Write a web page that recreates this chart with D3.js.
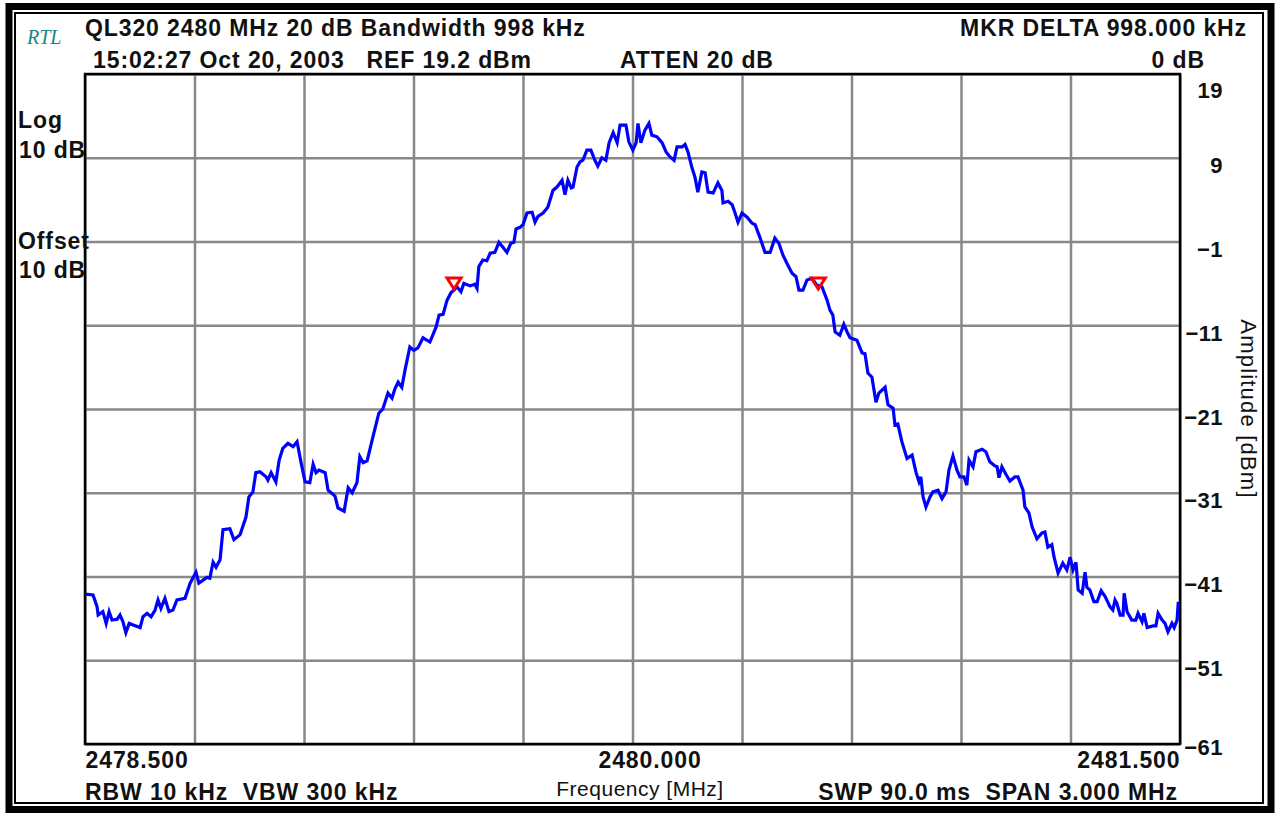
<!DOCTYPE html>
<html lang="en">
<head>
    <meta charset="UTF-8">
    <title>QL320 2480 MHz 20 dB Bandwidth</title>
    <style>
        body {
            margin: 0;
            padding: 0;
            background-color: #ffffff;
        }

        #analyzer {
            width: 1275px;
            height: 813px;
            display: block;
        }

        .hdr {
            font-family: "Liberation Sans", Arial, sans-serif;
            font-weight: bold;
            font-size: 23px;
            letter-spacing: 0.9px;
            fill: #111;
        }

        .thin {
            font-family: "Liberation Sans", Arial, sans-serif;
            font-size: 21px;
            letter-spacing: 0.5px;
            fill: #111;
        }
    </style>
</head>
<body>

<div id="analyzer"></div>

<script src="https://d3js.org/d3.v7.min.js"></script>
<script>
    // Trace: frequency in MHz, amplitude in dBm
    const freq = [
        2478.500, 2478.522, 2478.533, 2478.536, 2478.549, 2478.558, 2478.566, 2478.574, 2478.588, 2478.596,
        2478.604, 2478.612, 2478.621, 2478.632, 2478.651, 2478.659, 2478.670, 2478.681, 2478.692, 2478.700,
        2478.708, 2478.719, 2478.730, 2478.741, 2478.752, 2478.774, 2478.788, 2478.804, 2478.812, 2478.834,
        2478.842, 2478.851, 2478.859, 2478.870, 2478.878, 2478.897, 2478.908, 2478.925, 2478.941, 2478.949,
        2478.960, 2478.968, 2478.979, 2478.996, 2479.001, 2479.010, 2479.023, 2479.032, 2479.042, 2479.056,
        2479.070, 2479.081, 2479.092, 2479.103, 2479.116, 2479.125, 2479.133, 2479.141, 2479.158, 2479.166,
        2479.185, 2479.193, 2479.210, 2479.221, 2479.232, 2479.245, 2479.253, 2479.262, 2479.273, 2479.289,
        2479.305, 2479.316, 2479.330, 2479.341, 2479.349, 2479.358, 2479.368, 2479.377, 2479.390, 2479.401,
        2479.412, 2479.426, 2479.445, 2479.462, 2479.470, 2479.481, 2479.492, 2479.503, 2479.511, 2479.519,
        2479.530, 2479.538, 2479.555, 2479.568, 2479.574, 2479.579, 2479.590, 2479.601, 2479.610, 2479.623,
        2479.634, 2479.645, 2479.656, 2479.667, 2479.675, 2479.681, 2479.692, 2479.700, 2479.711, 2479.725,
        2479.733, 2479.741, 2479.755, 2479.768, 2479.782, 2479.793, 2479.807, 2479.815, 2479.823, 2479.832,
        2479.837, 2479.848, 2479.856, 2479.864, 2479.875, 2479.886, 2479.897, 2479.905, 2479.916, 2479.927,
        2479.936, 2479.947, 2479.958, 2479.966, 2479.982, 2479.990, 2480.001, 2480.010, 2480.015, 2480.023,
        2480.034, 2480.045, 2480.053, 2480.067, 2480.081, 2480.092, 2480.103, 2480.114, 2480.122, 2480.136,
        2480.144, 2480.152, 2480.163, 2480.171, 2480.179, 2480.190, 2480.199, 2480.207, 2480.221, 2480.234,
        2480.245, 2480.248, 2480.262, 2480.273, 2480.281, 2480.289, 2480.300, 2480.314, 2480.327, 2480.336,
        2480.349, 2480.363, 2480.377, 2480.390, 2480.401, 2480.412, 2480.423, 2480.437, 2480.448, 2480.456,
        2480.467, 2480.478, 2480.492, 2480.505, 2480.519, 2480.533, 2480.541, 2480.549, 2480.555, 2480.568,
        2480.579, 2480.588, 2480.596, 2480.615, 2480.629, 2480.637, 2480.645, 2480.656, 2480.667, 2480.675,
        2480.692, 2480.700, 2480.714, 2480.719, 2480.727, 2480.738, 2480.752, 2480.766, 2480.777, 2480.785,
        2480.790, 2480.796, 2480.804, 2480.815, 2480.823, 2480.837, 2480.848, 2480.859, 2480.867, 2480.878,
        2480.889, 2480.897, 2480.908, 2480.916, 2480.922, 2480.933, 2480.941, 2480.958, 2480.968, 2480.979,
        2480.993, 2480.999, 2481.004, 2481.012, 2481.023, 2481.034, 2481.048, 2481.056, 2481.070, 2481.075,
        2481.086, 2481.095, 2481.108, 2481.122, 2481.130, 2481.138, 2481.149, 2481.155, 2481.166, 2481.179,
        2481.190, 2481.199, 2481.207, 2481.215, 2481.221, 2481.232, 2481.240, 2481.245, 2481.253, 2481.264,
        2481.273, 2481.284, 2481.295, 2481.308, 2481.316, 2481.322, 2481.327, 2481.336, 2481.344, 2481.347,
        2481.355, 2481.368, 2481.379, 2481.385, 2481.396, 2481.401, 2481.410, 2481.426, 2481.434, 2481.440,
        2481.451, 2481.459, 2481.467, 2481.478, 2481.484, 2481.492, 2481.495, 2481.500
    ];

    const amplitude = [
        -43.1, -43.2, -44.6, -45.6, -45.2, -46.6, -45.2, -46.2, -46.1, -45.6,
        -46.4, -47.7, -46.6, -46.8, -47.1, -45.8, -45.4, -45.8, -45.0, -43.8,
        -44.8, -43.6, -45.2, -45.0, -43.8, -43.6, -41.8, -40.5, -41.8, -41.1,
        -41.2, -39.3, -39.9, -39.0, -35.4, -35.3, -36.6, -36.0, -33.9, -31.5,
        -30.9, -28.6, -28.5, -29.1, -29.5, -28.6, -29.7, -27.1, -25.7, -25.1,
        -25.5, -24.9, -27.4, -29.7, -29.8, -27.6, -28.6, -28.3, -28.6, -30.7,
        -31.4, -32.8, -33.2, -30.4, -31.0, -29.8, -26.7, -27.4, -27.2, -24.3,
        -21.5, -21.0, -19.1, -19.7, -18.6, -17.8, -18.4, -16.3, -13.6, -14.0,
        -13.7, -12.5, -13.0, -11.2, -9.8, -9.7, -8.0, -7.1, -6.8, -6.4,
        -7.0, -6.0, -6.3, -6.1, -6.6, -4.0, -3.2, -3.3, -2.4, -2.3,
        -1.1, -1.7, -2.3, -1.2, -1.1, 0.5, 0.7, 1.0, 2.4, 2.5,
        1.3, 2.0, 2.4, 3.1, 5.1, 5.5, 6.3, 4.6, 6.3, 5.4,
        5.5, 7.9, 8.5, 8.7, 9.9, 9.9, 8.7, 8.0, 9.0, 8.7,
        10.8, 12.0, 10.8, 12.9, 12.9, 10.9, 9.9, 10.8, 13.1, 10.8,
        12.3, 13.1, 11.7, 11.5, 10.8, 9.7, 9.1, 8.7, 10.3, 10.3,
        10.6, 9.7, 7.8, 6.7, 4.9, 7.3, 7.2, 4.9, 4.8, 6.0,
        5.1, 3.6, 3.8, 3.4, 2.4, 1.3, 2.4, 1.9, 1.2, 1.0,
        -0.5, -2.3, -2.3, -0.6, -1.2, -2.6, -3.6, -4.8, -5.2, -6.8,
        -6.8, -5.6, -5.4, -6.2, -6.4, -8.0, -9.2, -9.8, -11.8, -12.2,
        -10.9, -11.8, -12.5, -12.8, -14.3, -14.4, -16.7, -17.2, -20.2, -19.1,
        -18.4, -20.5, -20.9, -22.9, -22.8, -24.9, -26.9, -26.5, -28.6, -29.7,
        -29.1, -31.5, -32.7, -31.5, -30.9, -30.7, -31.7, -30.9, -28.3, -26.6,
        -28.3, -29.1, -29.1, -30.1, -27.1, -27.9, -26.1, -25.8, -26.1, -27.3,
        -27.8, -27.9, -29.2, -27.9, -28.8, -29.6, -29.1, -29.1, -30.7, -32.7,
        -33.4, -35.1, -36.5, -35.8, -35.7, -37.5, -37.2, -38.7, -40.6, -39.4,
        -40.2, -38.7, -40.2, -39.3, -42.6, -43.0, -40.5, -42.3, -42.6, -44.0,
        -44.0, -42.7, -43.4, -44.6, -45.0, -43.8, -44.2, -45.6, -45.6, -43.0,
        -45.2, -46.2, -46.2, -45.4, -46.4, -45.4, -47.1, -46.9, -46.9, -45.4,
        -46.2, -46.6, -47.6, -46.6, -47.1, -46.2, -44.2, -44.2
    ];

    // Delta markers (20 dB points)
    const markerFreq = [2479.511, 2480.509];
    const markerAmp = [-6.8, -6.8];

    const ampTicks = [19, 9, -1, -11, -21, -31, -41, -51, -61];
    const freqTicks = [2478.5, 2478.8, 2479.1, 2479.4, 2479.7, 2480.0, 2480.3, 2480.6, 2480.9, 2481.2, 2481.5];
    const freqLabels = [2478.5, 2480.0, 2481.5];

    const width = 1275, height = 813;
    const plot = { left: 85, right: 1180, top: 74, bottom: 744 };

    const svg = d3.select("#analyzer").append("svg")
        .attr("width", width)
        .attr("height", height);

    svg.append("rect").attr("width", width).attr("height", height).attr("fill", "#ffffff");

    // Double frame round the screen
    svg.append("rect")
        .attr("x", 9).attr("y", 6.5).attr("width", 1262).attr("height", 803)
        .attr("fill", "none").attr("stroke", "#000").attr("stroke-width", 7);
    svg.append("rect")
        .attr("x", 15).attr("y", 13).attr("width", 1248).attr("height", 790)
        .attr("fill", "none").attr("stroke", "#000").attr("stroke-width", 2);

    const x = d3.scaleLinear().domain([2478.5, 2481.5]).range([plot.left, plot.right]);
    const y = d3.scaleLinear().domain([-61, 19]).range([plot.bottom, plot.top]);

    // Graticule
    const grid = svg.append("g").attr("class", "grid");
    grid.append("g")
        .attr("transform", `translate(0,${plot.bottom})`)
        .call(d3.axisBottom(x).tickValues(freqTicks).tickSize(-(plot.bottom - plot.top)).tickFormat(""))
        .call(g => g.select(".domain").remove())
        .call(g => g.selectAll("line").attr("stroke", "#888").attr("stroke-width", 2.5));
    grid.append("g")
        .attr("transform", `translate(${plot.left},0)`)
        .call(d3.axisLeft(y).tickValues(ampTicks).tickSize(-(plot.right - plot.left)).tickFormat(""))
        .call(g => g.select(".domain").remove())
        .call(g => g.selectAll("line").attr("stroke", "#888").attr("stroke-width", 2.5));

    svg.append("rect")
        .attr("x", plot.left).attr("y", plot.top)
        .attr("width", plot.right - plot.left).attr("height", plot.bottom - plot.top)
        .attr("fill", "none").attr("stroke", "#000").attr("stroke-width", 2.5);

    // Trace
    const trace = freq.map((f, i) => [f, amplitude[i]]);
    const line = d3.line().x(d => x(d[0])).y(d => y(d[1]));

    svg.append("path")
        .datum(trace)
        .attr("d", line)
        .attr("fill", "none")
        .attr("stroke", "#0000ff")
        .attr("stroke-width", 3.2)
        .attr("stroke-linejoin", "miter");

    // Markers: open inverted triangles sitting on the trace
    svg.append("g").selectAll("path")
        .data(markerFreq.map((f, i) => [f, markerAmp[i]]))
        .enter().append("path")
        .attr("d", d => {
            const px = x(d[0]), py = y(d[1]);
            return `M${px - 7},${py - 12}L${px + 7},${py - 12}L${px},${py - 1}Z`;
        })
        .attr("fill", "none")
        .attr("stroke", "#ff0000")
        .attr("stroke-width", 3);

    // Right amplitude labels
    svg.append("g")
        .attr("transform", `translate(${plot.right},0)`)
        .call(d3.axisRight(y).tickValues(ampTicks).tickSize(0).tickPadding(0).tickFormat(d3.format("d")))
        .call(g => g.select(".domain").remove())
        .call(g => g.selectAll("text")
            .attr("class", "hdr")
            .attr("text-anchor", "end")
            .attr("x", 43)
            .attr("dy", d => d === 19 ? 23 : d === -61 ? 10 : 15)
            .attr("font-size", null)
            .attr("font-family", null)
            .attr("fill", null)
            .style("font-size", "22px")
            .style("letter-spacing", "0.5px"));

    // Bottom frequency labels
    svg.append("g")
        .attr("transform", `translate(0,${plot.bottom})`)
        .call(d3.axisBottom(x).tickValues(freqLabels).tickSize(0).tickPadding(0).tickFormat(d3.format(".3f")))
        .call(g => g.select(".domain").remove())
        .call(g => g.selectAll("text")
            .attr("class", "hdr")
            .attr("dy", 24)
            .attr("y", 0)
            .attr("dx", (d, i) => i === 1 ? 17 : 0)
            .attr("text-anchor", (d, i) => i === 0 ? "start" : i === freqLabels.length - 1 ? "end" : "middle")
            .attr("font-size", null)
            .attr("font-family", null)
            .attr("fill", null));

    // Header and footer annotations
    const notes = [
        { t: "QL320 2480 MHz 20 dB Bandwidth 998 kHz", x: 85, y: 36, a: "start" },
        { t: "MKR DELTA 998.000 kHz", x: 1247, y: 36, a: "end" },
        { t: "15:02:27 Oct 20, 2003   REF 19.2 dBm", x: 93, y: 68, a: "start" },
        { t: "ATTEN 20 dB", x: 620, y: 68, a: "start" },
        { t: "0 dB", x: 1205, y: 68, a: "end" },
        { t: "Log", x: 18, y: 128, a: "start" },
        { t: "10 dB", x: 19, y: 158, a: "start" },
        { t: "Offset", x: 18, y: 249, a: "start" },
        { t: "10 dB", x: 19, y: 278, a: "start" },
        { t: "RBW 10 kHz  VBW 300 kHz", x: 85, y: 800, a: "start" },
        { t: "SWP 90.0 ms  SPAN 3.000 MHz", x: 1178, y: 800, a: "end" }
    ];

    svg.append("g").selectAll("text")
        .data(notes)
        .enter().append("text")
        .attr("class", "hdr")
        .attr("x", d => d.x)
        .attr("y", d => d.y)
        .attr("text-anchor", d => d.a)
        .style("white-space", "pre")
        .text(d => d.t);

    svg.append("text")
        .attr("class", "thin")
        .attr("x", 640).attr("y", 796)
        .attr("text-anchor", "middle")
        .text("Frequency [MHz]");

    svg.append("text")
        .attr("class", "thin")
        .attr("transform", "translate(1241,409) rotate(90)")
        .attr("text-anchor", "middle")
        .style("font-size", "22px")
        .style("letter-spacing", "1.2px")
        .text("Amplitude [dBm]");

    svg.append("text")
        .attr("x", 27).attr("y", 44)
        .attr("font-family", "'Liberation Serif', 'Times New Roman', serif")
        .attr("font-style", "italic")
        .attr("font-size", 20)
        .attr("fill", "#138888")
        .text("RTL");
</script>

</body>
</html>
